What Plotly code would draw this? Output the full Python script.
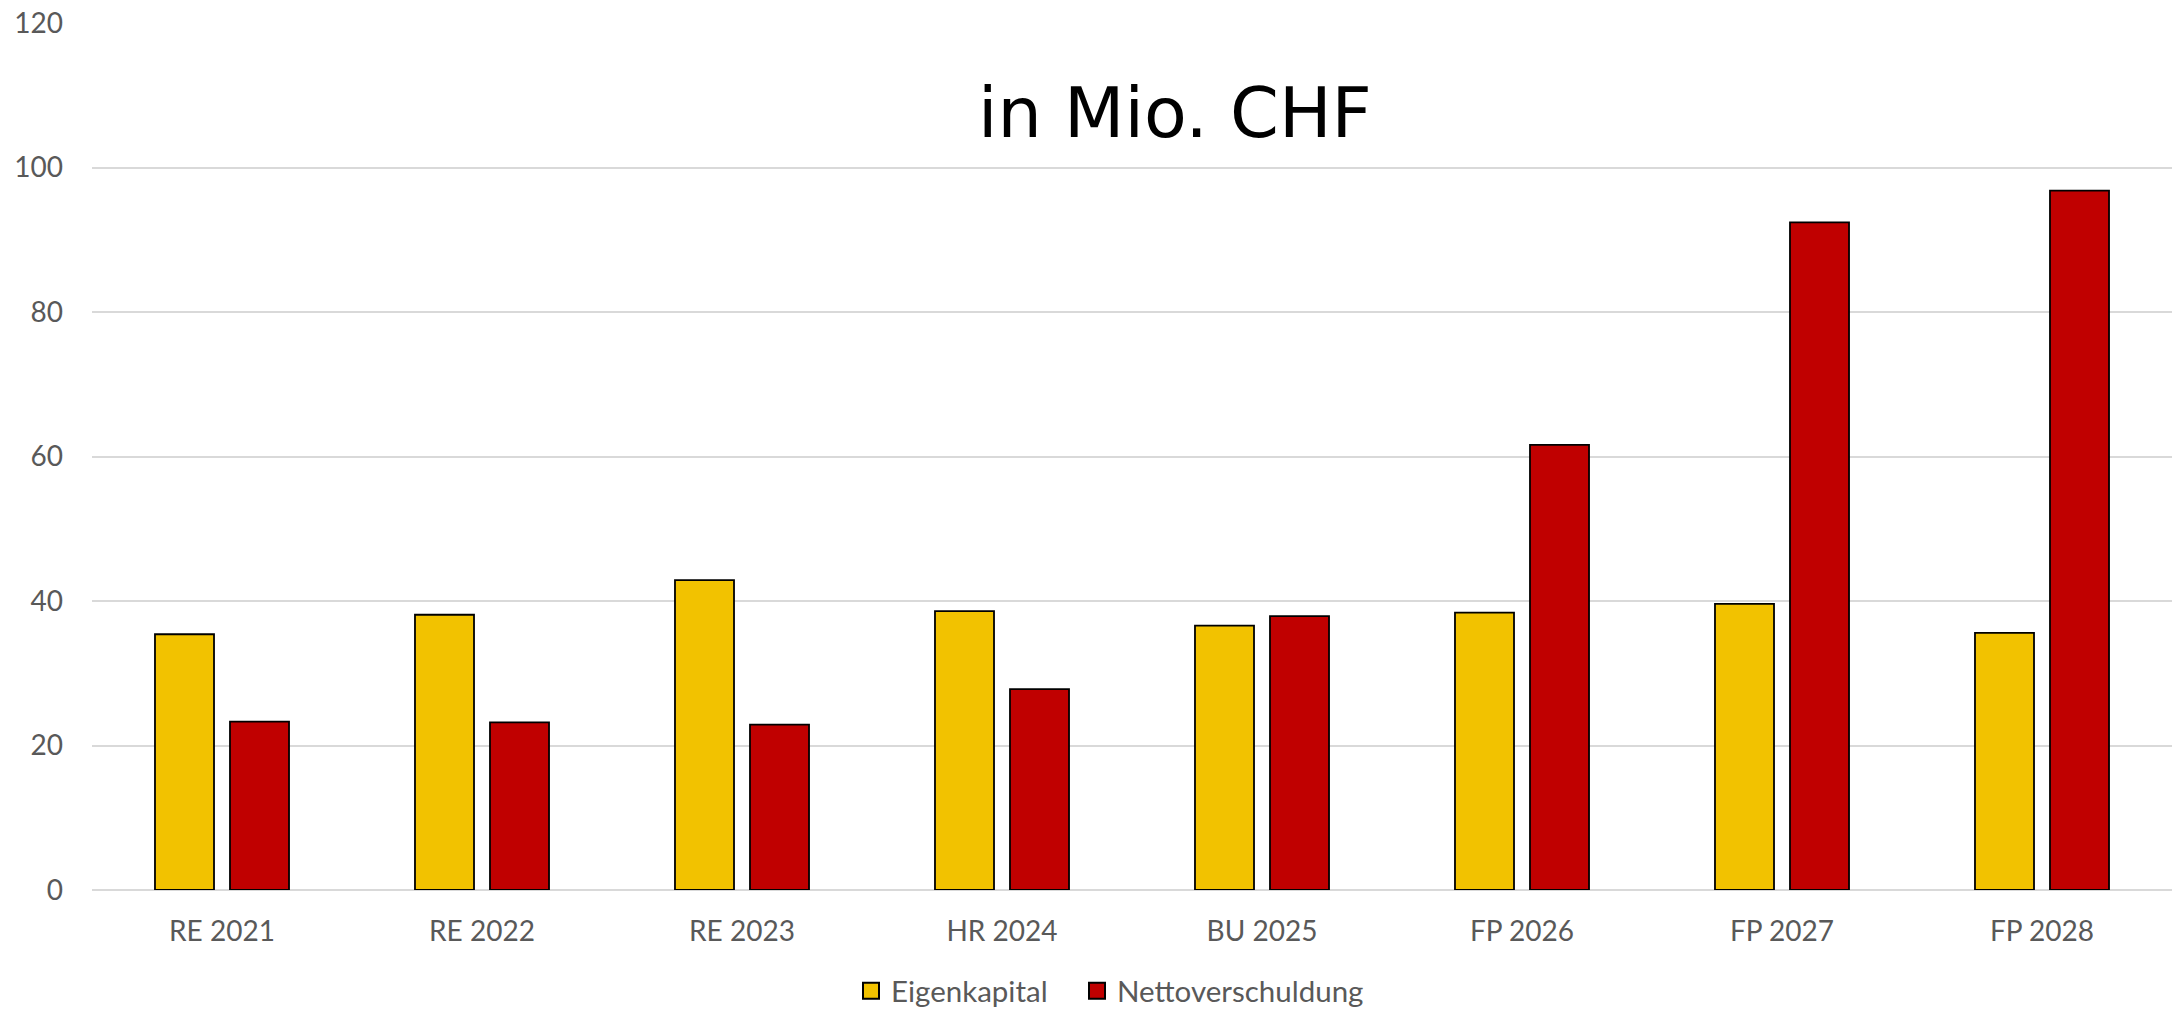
import plotly.graph_objects as go

categories = ["RE 2021", "RE 2022", "RE 2023", "HR 2024", "BU 2025", "FP 2026", "FP 2027", "FP 2028"]
eigenkapital = [35.4, 38.1, 42.9, 38.6, 36.6, 38.4, 39.6, 35.6]
nettoverschuldung = [23.3, 23.2, 22.9, 27.8, 37.9, 61.6, 92.4, 96.8]
y_ticks = [0, 20, 40, 60, 80, 100, 120]
series_names = ["Eigenkapital", "Nettoverschuldung"]
series_colors = ["#F2C200", "#C00000"]

W, H = 2172, 1009
ML, MR, MT, MB = 92, 0, 23, 119
FONT = "Lato, Carlito, Calibri, sans-serif"
TXT = "#595959"

fig = go.Figure()
for name, vals, col in zip(series_names, [eigenkapital, nettoverschuldung], series_colors):
    fig.add_trace(go.Bar(
        name=name, x=categories, y=vals, showlegend=False,
        marker=dict(color=col, line=dict(color="#000000", width=1.8)),
    ))
# legend-only entries with square swatches, one legend each for precise placement
legend_ids = ["legend", "legend2"]
for name, col, lg in zip(series_names, series_colors, legend_ids):
    fig.add_trace(go.Scatter(
        name=name, x=[None], y=[None], mode="markers", legend=lg,
        marker=dict(symbol="square", size=17, color=col, line=dict(color="#000000", width=2)),
    ))

legend_style = dict(orientation="h", xref="container", xanchor="left",
                    yref="container", y=1 - 991 / H, yanchor="middle",
                    font=dict(family=FONT, size=29.5, color=TXT),
                    itemwidth=30, bgcolor="rgba(0,0,0,0)")

fig.update_layout(
    width=W, height=H,
    margin=dict(l=ML, r=MR, t=MT, b=MB, pad=0, autoexpand=False),
    paper_bgcolor="white", plot_bgcolor="white",
    barmode="group", bargap=0.423, bargroupgap=0.213,
    font=dict(family=FONT, size=28, color=TXT),
    showlegend=True,
    legend=dict(x=851 / W, **legend_style),
    legend2=dict(x=1077 / W, **legend_style),
    annotations=[dict(
        text="in Mio. CHF", xref="paper", yref="paper",
        x=(1175 - ML) / (W - ML - MR), y=(H - MB - 113) / (H - MT - MB),
        xanchor="center", yanchor="middle", showarrow=False,
        font=dict(family="DejaVu Sans, Verdana, sans-serif", size=70, color="#000000"),
    )],
)
fig.update_yaxes(
    range=[0, 120], tickvals=y_ticks, showgrid=True, gridcolor="#D9D9D9", gridwidth=2,
    zeroline=True, zerolinecolor="#D9D9D9", zerolinewidth=2,
    showline=False, ticks="", ticklabelstandoff=28, automargin=False,
    tickfont=dict(family=FONT, size=28, color=TXT),
)
fig.update_xaxes(
    showgrid=False, showline=False, ticks="", ticklabelstandoff=22, automargin=False,
    tickfont=dict(family=FONT, size=28, color=TXT),
)

fig.write_html("out.html", config=dict(displayModeBar=False),
               post_script="document.body.style.margin='0';document.body.style.overflow='hidden';")
